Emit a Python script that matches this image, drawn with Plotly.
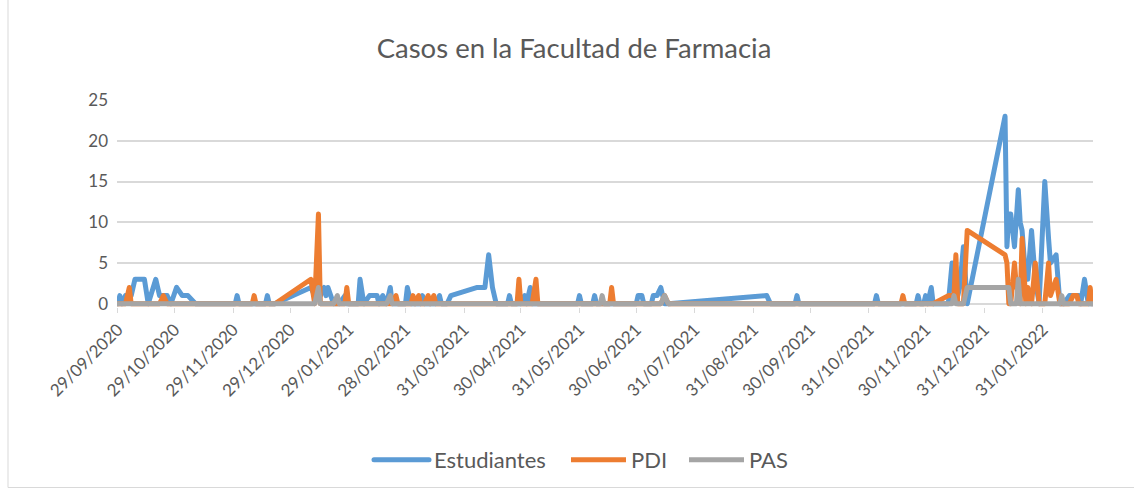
import plotly.graph_objects as go

# ---------------- data ----------------
fechas = [
    "2020-09-29", "2020-09-30", "2020-10-01", "2020-10-03", "2020-10-05", "2020-10-06", "2020-10-08", "2020-10-13", "2020-10-15", "2020-10-19",
    "2020-10-21", "2020-10-23", "2020-10-25", "2020-10-27", "2020-10-30", "2020-11-02", "2020-11-05", "2020-11-09", "2020-11-30", "2020-12-01",
    "2020-12-02", "2020-12-09", "2020-12-10", "2020-12-11", "2020-12-16", "2020-12-17", "2020-12-18", "2020-12-21", "2021-01-09", "2021-01-11",
    "2021-01-13", "2021-01-14", "2021-01-16", "2021-01-17", "2021-01-18", "2021-01-21", "2021-01-23", "2021-01-24", "2021-01-27", "2021-01-28",
    "2021-01-29", "2021-02-03", "2021-02-04", "2021-02-06", "2021-02-09", "2021-02-13", "2021-02-14", "2021-02-16", "2021-02-18", "2021-02-20",
    "2021-02-21", "2021-02-23", "2021-02-24", "2021-02-28", "2021-03-01", "2021-03-03", "2021-03-04", "2021-03-05", "2021-03-07", "2021-03-08",
    "2021-03-09", "2021-03-10", "2021-03-12", "2021-03-13", "2021-03-15", "2021-03-16", "2021-03-18", "2021-03-19", "2021-03-22", "2021-03-24",
    "2021-04-07", "2021-04-11", "2021-04-13", "2021-04-15", "2021-04-17", "2021-04-23", "2021-04-24", "2021-04-25", "2021-04-28", "2021-04-29",
    "2021-04-30", "2021-05-02", "2021-05-03", "2021-05-05", "2021-05-06", "2021-05-08", "2021-05-09", "2021-05-30", "2021-05-31", "2021-06-01",
    "2021-06-07", "2021-06-08", "2021-06-09", "2021-06-11", "2021-06-12", "2021-06-13", "2021-06-16", "2021-06-17", "2021-06-18", "2021-06-30",
    "2021-07-01", "2021-07-03", "2021-07-04", "2021-07-08", "2021-07-09", "2021-07-11", "2021-07-13", "2021-07-15", "2021-07-17", "2021-09-07",
    "2021-09-09", "2021-09-22", "2021-09-23", "2021-09-24", "2021-11-03", "2021-11-04", "2021-11-05", "2021-11-17", "2021-11-18", "2021-11-19",
    "2021-11-25", "2021-11-26", "2021-11-27", "2021-11-29", "2021-11-30", "2021-12-01", "2021-12-03", "2021-12-04", "2021-12-12", "2021-12-14",
    "2021-12-15", "2021-12-16", "2021-12-17", "2021-12-18", "2021-12-20", "2021-12-22", "2022-01-11", "2022-01-12", "2022-01-13", "2022-01-14",
    "2022-01-16", "2022-01-17", "2022-01-18", "2022-01-19", "2022-01-20", "2022-01-22", "2022-01-23", "2022-01-25", "2022-01-27", "2022-01-29",
    "2022-02-01", "2022-02-03", "2022-02-04", "2022-02-07", "2022-02-09", "2022-02-10", "2022-02-11", "2022-02-14", "2022-02-16", "2022-02-18",
    "2022-02-19", "2022-02-20", "2022-02-22", "2022-02-24", "2022-02-25", "2022-02-26",
]

estudiantes = [
    0, 1, 0, 1, 1, 1, 3, 3, 0, 3,
    1, 1, 1, 0, 2, 1, 1, 0, 0, 1,
    0, 0, 0, 0, 0, 1, 0, 0, 2, 1,
    1, 1, 2, 1, 2, 0, 0, 0, 1, 0,
    0, 0, 3, 0, 1, 1, 0, 1, 0, 2,
    0, 0, 0, 0, 2, 0, 0, 0, 0, 0,
    1, 0, 0, 0, 0, 0, 1, 0, 0, 1,
    2, 2, 6, 2, 0, 0, 1, 0, 0, 0,
    0, 1, 0, 2, 0, 0, 0, 0, 1, 0,
    0, 1, 0, 0, 0, 0, 0, 0, 0, 0,
    1, 1, 0, 0, 1, 1, 2, 0, 0, 1,
    0, 0, 1, 0, 0, 1, 0, 0, 0, 0,
    0, 1, 0, 0, 1, 0, 2, 0, 0, 5,
    3, 2, 1, 2, 7, 0, 23, 7, 11, 11,
    7, 10, 14, 10, 9, 3, 3, 9, 3, 0,
    15, 8, 5, 6, 0, 0, 0, 1, 1, 1,
    1, 0, 3, 0, 0, 0,
]

pdi = [
    0, 0, 0, 0, 2, 0, 0, 0, 0, 0,
    0, 1, 0, 0, 0, 0, 0, 0, 0, 0,
    0, 0, 1, 0, 0, 0, 0, 0, 3, 0,
    11, 0, 0, 0, 0, 0, 0, 0, 0, 2,
    0, 0, 0, 0, 0, 0, 0, 0, 0, 0,
    0, 1, 0, 0, 0, 0, 1, 0, 1, 0,
    0, 0, 1, 0, 1, 0, 0, 0, 0, 0,
    0, 0, 0, 0, 0, 0, 0, 0, 0, 3,
    0, 0, 0, 0, 0, 3, 0, 0, 0, 0,
    0, 0, 0, 0, 0, 0, 0, 2, 0, 0,
    0, 0, 0, 0, 0, 0, 0, 1, 0, 0,
    0, 0, 0, 0, 0, 0, 0, 0, 1, 0,
    0, 0, 0, 0, 0, 0, 0, 0, 1, 1,
    1, 6, 0, 0, 0, 9, 6, 5, 0, 0,
    5, 2, 2, 0, 8, 0, 2, 0, 5, 0,
    0, 5, 1, 3, 0, 0, 0, 0, 1, 1,
    0, 0, 0, 0, 2, 0,
]

pas = [
    0, 0, 0, 0, 0, 0, 0, 0, 0, 0,
    0, 0, 0, 0, 0, 0, 0, 0, 0, 0,
    0, 0, 0, 0, 0, 0, 0, 0, 0, 0,
    2, 0, 0, 0, 0, 0, 1, 0, 0, 0,
    0, 0, 0, 0, 0, 0, 0, 0, 0, 1,
    0, 0, 0, 0, 0, 0, 0, 0, 0, 0,
    0, 0, 0, 0, 0, 0, 0, 0, 0, 0,
    0, 0, 0, 0, 0, 0, 0, 0, 0, 0,
    0, 0, 0, 0, 0, 0, 0, 0, 0, 0,
    0, 0, 0, 0, 1, 0, 0, 0, 0, 0,
    0, 0, 0, 0, 0, 0, 0, 1, 0, 0,
    0, 0, 0, 0, 0, 0, 0, 0, 0, 0,
    0, 0, 0, 0, 0, 0, 0, 0, 0, 0,
    1, 0, 0, 0, 0, 2, 2, 2, 2, 0,
    0, 0, 3, 0, 0, 0, 0, 0, 0, 0,
    0, 0, 0, 0, 0, 1, 0, 0, 0, 0,
    0, 0, 0, 0, 0, 0,
]

series_names = ["Estudiantes", "PDI", "PAS"]
series_colors = ["#5B9BD5", "#ED7D31", "#A5A5A5"]

tick_dates = [
    "2020-09-29", "2020-10-29", "2020-11-29", "2020-12-29", "2021-01-29", "2021-02-28",
    "2021-03-31", "2021-04-30", "2021-05-31", "2021-06-30", "2021-07-31", "2021-08-31",
    "2021-09-30", "2021-10-31", "2021-11-30", "2021-12-31", "2022-01-31",
]
tick_labels = [
    "29/09/2020", "29/10/2020", "29/11/2020", "29/12/2020", "29/01/2021", "28/02/2021",
    "31/03/2021", "30/04/2021", "31/05/2021", "30/06/2021", "31/07/2021", "31/08/2021",
    "30/09/2021", "31/10/2021", "30/11/2021", "31/12/2021", "31/01/2022",
]

# ---------------- figure ----------------
FONT = "Lato, 'Open Sans', 'Liberation Sans', sans-serif"
TXT = "#595959"
GRID = "#D9D9D9"
W, H = 1134, 492
ML, MR, MT, MB = 117, 41, 100, 185
pw = W - ML - MR
ph = H - MT - MB

legend_ids = ["legend", "legend2", "legend3"]
legend_left_px = [369, 566, 684]   # where each legend entry starts

fig = go.Figure()
for name, vals, col, lid in zip(series_names, [estudiantes, pdi, pas], series_colors, legend_ids):
    fig.add_trace(go.Scatter(
        x=fechas, y=vals, mode="lines", name=name, legend=lid,
        line=dict(color=col, width=5),
    ))

legend_common = dict(orientation="h", xref="container", yref="container",
                     xanchor="left", y=1 - 460 / H, yanchor="middle",
                     font=dict(size=22, color=TXT, family=FONT), itemwidth=55,
                     bgcolor="rgba(0,0,0,0)")
legends = {lid: dict(legend_common, x=px / W) for lid, px in zip(legend_ids, legend_left_px)}

fig.update_layout(
    width=W, height=H,
    margin=dict(l=ML, r=MR, t=MT, b=MB, pad=0, autoexpand=False),
    paper_bgcolor="white", plot_bgcolor="white",
    font=dict(family=FONT, color=TXT, size=18),
    title=dict(text="Casos en la Facultad de Farmacia", x=574 / W, xanchor="center",
               y=1 - 48 / H, yanchor="middle", font=dict(size=27.5, color=TXT, family=FONT)),
    showlegend=True,
    xaxis=dict(
        type="date", range=["2020-09-28 12:00", "2022-02-26 12:00"],
        tickvals=tick_dates, ticktext=tick_labels, tickangle=-45,
        showgrid=False, showline=False, zeroline=False,
        ticks="outside", ticklen=5, tickwidth=1, tickcolor=GRID,
        tickfont=dict(size=17, color=TXT), automargin=False,
    ),
    yaxis=dict(
        range=[-0.4, 25], tickvals=[0, 5, 10, 15, 20, 25],
        showgrid=True, gridcolor=GRID, gridwidth=1.5,
        zeroline=True, zerolinecolor=GRID, zerolinewidth=1.5,
        showline=False, ticks="", ticklabelstandoff=8,
        tickfont=dict(size=17, color=TXT), automargin=False,
    ),
    shapes=[dict(type="rect", xref="paper", yref="paper", layer="below",
                 x0=(8 - ML) / pw, x1=(1150 - ML) / pw,
                 y0=(MT + ph - 487.5) / ph, y1=(MT + ph + 20) / ph,
                 line=dict(color=GRID, width=1), fillcolor="rgba(0,0,0,0)")],
    **legends,
)

page_js = """
document.body.style.margin = '0';
document.body.style.padding = '0';
document.querySelectorAll('.scatterlayer path.js-line, .legend path.js-line').forEach(function(p){
  p.style.strokeLinejoin = 'round';
  p.style.strokeLinecap = 'round';
});
"""

fig.write_html("out.html", post_script=page_js, config={"displayModeBar": False})
